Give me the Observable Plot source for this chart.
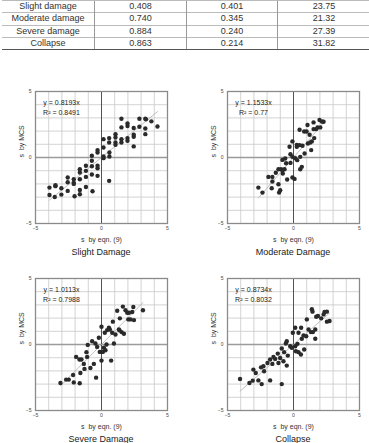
<!DOCTYPE html>
<html>
<head>
<meta charset="utf-8">
<script src="https://cdn.jsdelivr.net/npm/d3@7"></script>
<script src="https://cdn.jsdelivr.net/npm/@observablehq/plot@0.6"></script>
<style>
  html, body { margin: 0; padding: 0; background: #fff; }
  body { width: 369px; height: 443px; position: relative; overflow: hidden; font-family: "Liberation Sans", Arial, sans-serif; color: #333; }
  table { position: absolute; left: 2px; top: 0px; width: 365px; border-collapse: collapse; font-size: 9px; table-layout: fixed; }
  td { text-align: center; padding: 0; height: 11.3px; line-height: 11.3px; border-top: 1px solid #bbb; color: #333; }
  tr:last-child td { border-bottom: 1.3px solid #555; }
  td + td { border-left: 1px solid #999; }
  .chart { position: absolute; width: 184px; height: 168px; }
  .chart svg { max-width: none !important; }
  .title { position: absolute; width: 132px; text-align: center; font-size: 9px; color: #222; line-height: 11px; }
</style>
</head>
<body>
<script>
// ---- Table data ----
const damageStates = ["Slight damage", "Moderate damage", "Severe damage", "Collapse"];
const col2Values = ["0.408", "0.740", "0.884", "0.863"];
const col3Values = ["0.401", "0.345", "0.240", "0.214"];
const col4Values = ["23.75", "21.32", "27.39", "31.82"];

// ---- Scatter data [s by eqn. (9), s by MCS] ----
const slightPoints = [[-3.94,-2.28],[-3.94,-2.84],[-3.54,-2.99],[-3.49,-2.1],[-3.49,-2.17],[-3.04,-2.33],[-3.04,-2.81],[-2.56,-1.52],[-2.56,-1.87],[-2.56,-2.53],[-2.1,-1.65],[-2.1,-1.92],[-2.1,-2.0],[-2.04,-2.94],[-1.64,-0.89],[-1.64,-1.14],[-1.64,-1.65],[-1.64,-2.46],[-1.64,-2.78],[-1.18,-0.63],[-1.18,-1.01],[-1.18,-1.47],[-1.18,-2.23],[-0.73,0.13],[-0.73,-0.25],[-0.73,-0.66],[-0.73,-1.29],[-0.68,-2.56],[-0.3,0.56],[-0.3,0.38],[-0.3,-0.63],[-0.3,-0.81],[-0.3,-1.39],[0.15,1.39],[0.15,0.76],[0.15,0.08],[0.15,-0.05],[0.58,1.47],[0.58,1.14],[0.6,0.38],[0.6,0.08],[0.58,-1.77],[1.06,1.77],[1.06,1.52],[1.06,1.14],[1.06,0.96],[1.51,2.94],[1.51,2.28],[1.51,1.39],[1.51,1.14],[1.97,2.58],[1.97,2.38],[1.97,1.47],[1.97,1.27],[2.44,2.23],[2.44,1.72],[2.44,1.57],[2.44,0.84],[2.87,2.94],[2.87,2.33],[3.32,2.94],[3.37,2.89],[3.32,2.2],[3.32,1.77],[3.78,2.74],[4.24,2.35]];
const moderatePoints = [[-2.66,-2.28],[-2.35,-2.66],[-1.9,-1.47],[-1.6,-1.47],[-1.6,-1.82],[-1.65,-2.33],[-1.34,-1.16],[-1.14,-0.89],[-1.14,-2.03],[-1.09,-2.66],[-1.01,-2.48],[-0.94,-0.89],[-0.84,-0.96],[-0.81,-1.22],[-0.68,-0.89],[-0.84,-0.18],[-0.63,-0.08],[-0.56,-0.43],[-0.48,-1.67],[-0.3,0.81],[-0.23,0.25],[-0.23,-0.41],[-0.08,1.22],[-0.08,0.05],[-0.08,-1.52],[0.08,-1.62],[0.13,-0.05],[0.25,0.96],[0.25,0.81],[0.28,-0.2],[0.46,2.1],[0.46,0.94],[0.51,0.05],[0.51,-0.89],[0.63,-0.71],[0.68,0.89],[0.81,1.97],[0.84,0.3],[0.99,1.97],[1.06,2.46],[1.09,1.06],[1.22,1.72],[1.27,1.14],[1.34,0.56],[1.39,1.22],[1.52,2.15],[1.52,2.66],[1.57,1.47],[1.72,2.15],[1.82,2.28],[1.97,2.84],[2.03,2.28],[2.15,2.73],[2.28,2.71]];
const severePoints = [[-3.11,-2.92],[-2.68,-2.66],[-2.48,-2.66],[-2.15,-2.31],[-2.1,-2.87],[-1.92,-0.94],[-1.67,-1.14],[-1.65,-2.94],[-1.6,-2.16],[-1.52,-1.14],[-1.34,-1.47],[-1.29,-1.85],[-1.14,-0.58],[-1.09,-0.94],[-1.04,-0.03],[-0.84,-1.78],[-0.71,0.25],[-0.58,-1.47],[-0.46,0.08],[-0.41,-2.51],[-0.33,-0.18],[-0.2,0.51],[-0.13,-0.56],[0.0,1.35],[0.0,-0.56],[0.0,-1.22],[0.1,-0.56],[0.18,-0.25],[0.25,0.89],[0.3,-0.43],[0.38,0.0],[0.43,1.09],[0.56,1.27],[0.63,1.14],[0.73,-1.22],[0.81,0.89],[0.86,1.73],[0.94,0.08],[1.06,0.76],[1.19,2.56],[1.32,1.14],[1.37,1.07],[1.39,1.98],[1.52,0.94],[1.62,2.87],[1.7,0.81],[1.82,2.59],[1.95,2.41],[2.03,1.9],[2.08,2.41],[2.2,1.9],[2.33,2.46],[2.41,2.84],[2.46,1.85],[3.14,2.59]];
const collapsePoints = [[-4.05,-2.61],[-3.34,-2.92],[-3.09,-2.74],[-3.04,-1.9],[-2.86,-2.16],[-2.66,-2.72],[-2.41,-3.0],[-2.46,-1.73],[-2.28,-1.65],[-2.23,-2.03],[-1.97,-1.4],[-1.77,-2.72],[-1.77,-1.14],[-1.6,-1.47],[-1.52,-0.94],[-1.39,-1.09],[-1.19,-0.69],[-1.14,-1.4],[-1.01,-1.02],[-0.89,-0.3],[-0.89,-3.0],[-0.76,-1.27],[-0.71,-0.58],[-0.58,0.08],[-0.51,-1.6],[-0.51,0.25],[-0.43,-0.84],[-0.25,-0.13],[-0.13,-0.25],[-0.05,0.89],[0.13,1.27],[0.13,-0.13],[0.18,-0.51],[0.3,0.05],[0.38,0.89],[0.38,-0.58],[0.56,-0.76],[0.58,1.27],[0.63,0.43],[0.76,0.69],[0.81,-0.38],[0.96,0.63],[1.01,1.9],[1.14,1.14],[1.32,0.94],[1.39,2.67],[1.44,2.49],[1.47,0.94],[1.65,1.14],[1.65,0.43],[1.72,2.1],[1.85,2.16],[2.1,1.98],[2.28,2.28],[2.35,2.46],[2.53,2.49],[2.53,1.73],[2.73,1.78]];

const panelTitles = ["Slight Damage", "Moderate Damage", "Severe Damage", "Collapse"];
const slopes = [0.8193, 1.1533, 1.0113, 0.8734];
const equations = ["y = 0.8193x", "y = 1.1533x", "y = 1.0113x", "y = 0.8734x"];
const rSquared = ["R\u00B2 = 0.8491", "R\u00B2 = 0.77", "R\u00B2 = 0.7988", "R\u00B2 = 0.8032"];
const axisTicks = [-5, 0, 5];
const gridTicks = [-5, -4, -3, -2, -1, 0, 1, 2, 3, 4, 5];
const xLabel = "s  by eqn. (9)";
const yLabel = "s  by MCS";

// ---- Table ----
const table = document.createElement("table");
damageStates.forEach((name, i) => {
  const tr = document.createElement("tr");
  [name, col2Values[i], col3Values[i], col4Values[i]].forEach((v, j) => {
    const td = document.createElement("td");
    td.textContent = v;
    td.style.width = ["92px", "91px", "90px", "92px"][j];
    tr.appendChild(td);
  });
  table.appendChild(tr);
});
document.body.appendChild(table);

// ---- Charts ----
const allPoints = [slightPoints, moderatePoints, severePoints, collapsePoints];
const positions = [[0, 80], [192, 80], [0, 267], [192, 267]];

function makeChart(points, slope, eq, r2) {
  const ext = d3.extent(points, d => d[0]);
  const fit = ext.map(x => ({x, y: slope * x}));
  return Plot.plot({
    width: 184, height: 168,
    marginLeft: 35, marginRight: 17, marginTop: 11, marginBottom: 25,
    x: {domain: [-5, 5]},
    y: {domain: [-5, 5]},
    style: {fontFamily: "Liberation Sans, Arial, sans-serif", fontSize: "5px", color: "#333", background: "white", maxWidth: "none"},
    marks: [
      Plot.gridX({ticks: gridTicks, stroke: "#c8c8c8", strokeOpacity: 1, strokeWidth: 0.8}),
      Plot.gridY({ticks: gridTicks, stroke: "#c8c8c8", strokeOpacity: 1, strokeWidth: 0.8}),
      Plot.ruleY([0], {stroke: "#9a9a9a", strokeWidth: 1.6}),
      Plot.ruleX([0], {stroke: "#444", strokeWidth: 0.9}),
      Plot.frame({stroke: "#8a8a8a", strokeWidth: 1.3}),
      Plot.line(fit, {x: "x", y: "y", stroke: "#b0b0b0", strokeWidth: 0.8}),
      Plot.dot(points, {x: d => d[0], y: d => d[1], r: 2.2, fill: "#2a2a2a", stroke: "none"}),
      Plot.axisX({ticks: axisTicks, tickSize: 0, tickPadding: 3, label: null, fontSize: 5, fill: "#444"}),
      Plot.axisY({ticks: axisTicks, tickSize: 0, tickPadding: 4, label: null, fontSize: 5, fill: "#444"}),
      Plot.text([xLabel], {frameAnchor: "bottom", dy: 18, fontSize: 7, fill: "#333"}),
      Plot.text([yLabel], {frameAnchor: "left", dx: -14, rotate: -90, fontSize: 7, fill: "#333"}),
      Plot.text([eq], {frameAnchor: "top-left", dx: 26, dy: 11.5, textAnchor: "middle", lineAnchor: "middle", fontSize: 7, fill: "#222"}),
      Plot.text([r2], {frameAnchor: "top-left", dx: 26, dy: 21.5, textAnchor: "middle", lineAnchor: "middle", fontSize: 7, fill: "#222"})
    ]
  });
}

allPoints.forEach((pts, i) => {
  const chart = makeChart(pts, slopes[i], equations[i], rSquared[i]);
  const wrap = document.createElement("div");
  wrap.className = "chart";
  wrap.style.left = positions[i][0] + "px";
  wrap.style.top = positions[i][1] + "px";
  wrap.appendChild(chart);
  document.body.appendChild(wrap);
  const t = document.createElement("div");
  t.className = "title";
  t.textContent = panelTitles[i];
  t.style.left = (positions[i][0] + 35) + "px";
  t.style.top = (positions[i][1] + 167) + "px";
  document.body.appendChild(t);
});
</script>
</body>
</html>
